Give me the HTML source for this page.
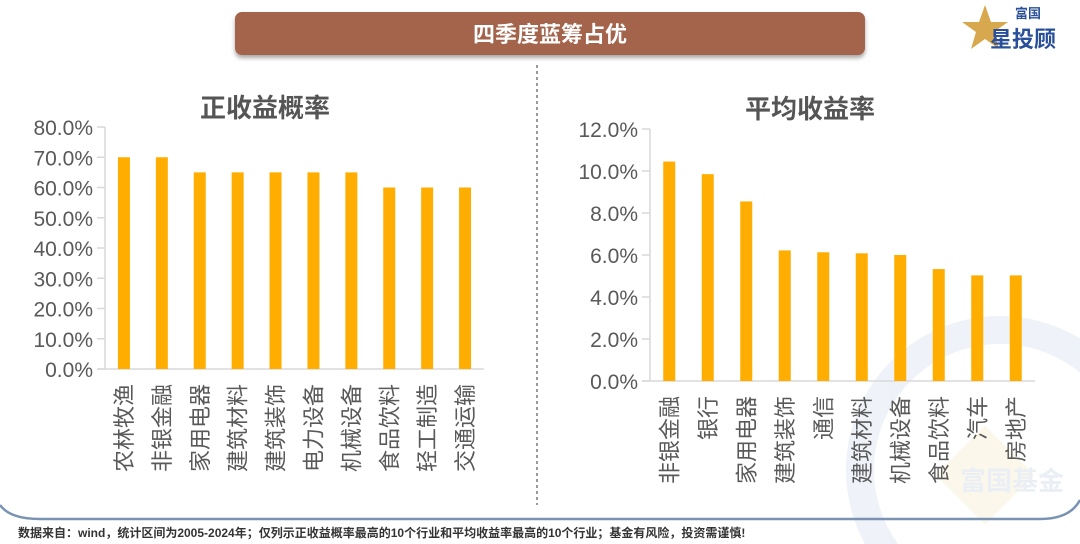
<!DOCTYPE html>
<html><head><meta charset="utf-8"><style>
html,body{margin:0;width:1080px;height:544px;overflow:hidden;background:#fff;font-family:"Liberation Sans","Noto Sans CJK SC",sans-serif}
svg{display:block}
</style></head><body>
<svg id="s" width="1080" height="544" xmlns="http://www.w3.org/2000/svg">
<defs><filter id="sh" x="-5%" y="-20%" width="110%" height="160%"><feDropShadow dx="0" dy="3" stdDeviation="2" flood-color="#000" flood-opacity="0.35"/></filter></defs>
<g opacity="0.5">
<circle cx="1000" cy="470" r="140" fill="none" stroke="#dfe6f2" stroke-width="28"/>
<rect x="950" y="440" width="70" height="70" transform="rotate(45 985 475)" fill="#fbf0d8"/>
<text x="960" y="490" font-size="26" font-weight="bold" fill="#d6e0ef">富国基金</text>
</g>
<path d="M0 505 Q10 519 40 519 L1040 519 Q1070 519 1080 500" fill="none" stroke="#7b93b3" stroke-width="2.5"/>
<rect x="235" y="12" width="630" height="43" rx="7" fill="#a4634b" filter="url(#sh)"/>
<text x="550" y="42" text-anchor="middle" font-size="22" font-weight="bold" fill="#fff">四季度蓝筹占优</text>
<g>
<polygon points="985,5 991,22 1008,22 994,32 999,49 985,39 971,49 976,32 962,22 979,22" fill="#d8a84e"/>
<text x="1015" y="18" font-size="13" font-weight="bold" fill="#2a4f9a">富国</text>
<text x="990" y="47" font-size="22" font-weight="bold" fill="#2a4f9a">星投顾</text>
</g>
<line x1="537" y1="65" x2="537" y2="505" stroke="#999" stroke-width="2" stroke-dasharray="3,3"/>
<text x="265" y="117" text-anchor="middle" font-size="26" font-weight="bold" fill="#555">正收益概率</text>
<text x="810" y="118" text-anchor="middle" font-size="26" font-weight="bold" fill="#555">平均收益率</text>
<text x="18" y="537" font-size="12" font-weight="bold" fill="#333">数据来自：wind，统计区间为2005-2024年；仅列示正收益概率最高的10个行业和平均收益率最高的10个行业；基金有风险，投资需谨慎!</text>
<g id="left"></g><g id="right"></g>
</svg>
<script>
const leftCats=["农林牧渔","非银金融","家用电器","建筑材料","建筑装饰","电力设备","机械设备","食品饮料","轻工制造","交通运输"];
const leftVals=[70,70,65,65,65,65,65,60,60,60];
const leftTicks=[0,10,20,30,40,50,60,70,80];
const rightCats=["非银金融","银行","家用电器","建筑装饰","通信","建筑材料","机械设备","食品饮料","汽车","房地产"];
const rightVals=[10.45,9.85,8.55,6.22,6.13,6.08,6.0,5.33,5.03,5.03];
const rightTicks=[0,2,4,6,8,10,12];
const NS="http://www.w3.org/2000/svg";
function mk(p,t,a){const e=document.createElementNS(NS,t);for(const k in a)e.setAttribute(k,a[k]);p.appendChild(e);return e;}
function draw(id,cats,vals,ticks,cfg){
 const g=document.getElementById(id);
 const max=ticks[ticks.length-1];
 const y=v=>cfg.y0-(v/max)*(cfg.y0-cfg.y1);
 const step=(cfg.x1-cfg.x0)/cats.length;
 const x=i=>cfg.x0+step*(i+0.5);
 let ax=mk(g,'line',{x1:cfg.x0,y1:cfg.y1,x2:cfg.x0,y2:cfg.y0,stroke:'#d9d9d9','stroke-width':1.5});
 
 
 let bx=mk(g,'line',{x1:cfg.x0-8,y1:cfg.y0,x2:cfg.x1,y2:cfg.y0,stroke:'#d9d9d9','stroke-width':1.5});
 
 
 ticks.forEach(t=>{
  mk(g,'line',{x1:cfg.x0-8,y1:y(t),x2:cfg.x0,y2:y(t),stroke:'#d9d9d9','stroke-width':1.5});
  const tx=mk(g,'text',{x:cfg.x0-12,y:y(t)+8,'text-anchor':'end','font-size':21,fill:'#595959'});
  tx.textContent=t.toFixed(1)+'%';
  
  
 });
 vals.forEach((v,i)=>{
  const r=mk(g,'rect',{x:x(i)-6,y:y(v),width:12,height:cfg.y0-y(v),fill:'#ffae00'});
  
  
 });
 cats.forEach((c,i)=>{
  const tx=mk(g,'text',{x:0,y:0,'text-anchor':'end','font-size':22,fill:'#595959',transform:`translate(${x(i)+8},${cfg.y0+15}) rotate(-90)`});
  tx.textContent=c;
  
  
 });
}
draw('left',leftCats,leftVals,leftTicks,{x0:105,x1:484,y0:369,y1:127});
draw('right',rightCats,rightVals,rightTicks,{x0:650,x1:1035,y0:381,y1:129});
</script>
</body></html>
